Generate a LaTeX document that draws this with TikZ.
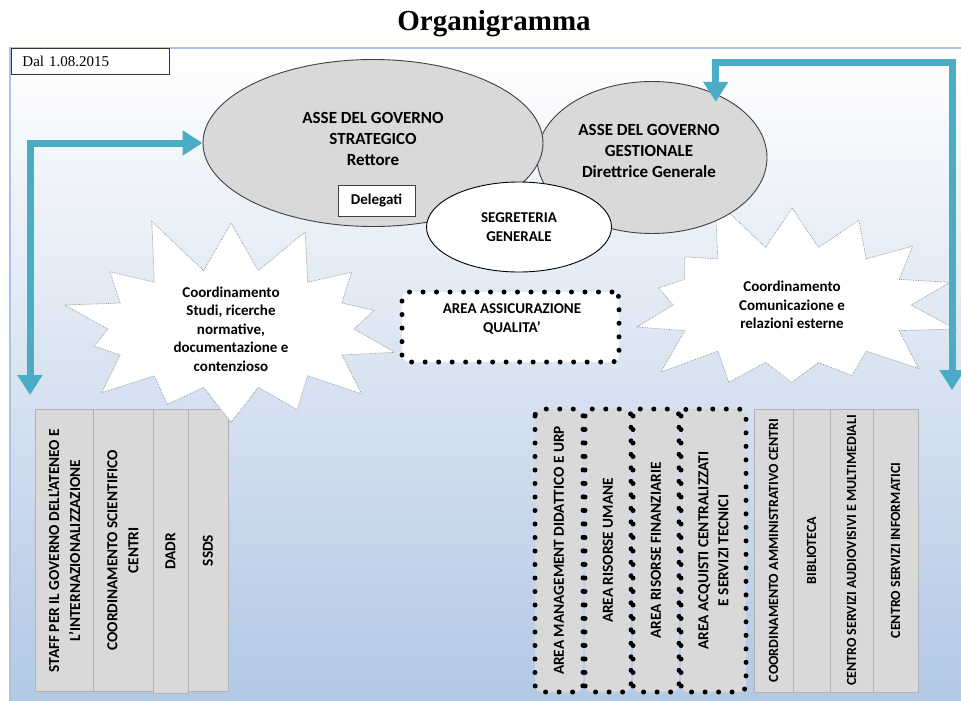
\documentclass[tikz,border=0pt]{standalone}
\usepackage{fontspec}
\setmainfont{Carlito}
\newfontfamily\serifrm{Liberation Serif}
\usetikzlibrary{arrows.meta}
\usetikzlibrary{shapes.geometric}
\usetikzlibrary{shapes.symbols}
\definecolor{cellgray}{RGB}{217,217,217}
\definecolor{flowblue}{RGB}{75,172,198}
\definecolor{panelblue}{RGB}{178,200,228}
\definecolor{panelline}{RGB}{170,196,232}
\newcommand{\bigtxt}{\bfseries\fontsize{17}{21}\selectfont}

\begin{document}
\begin{tikzpicture}[x=1pt,y=-1pt,
  font=\bfseries\fontsize{15}{18.5}\selectfont,
  oval/.style={ellipse,draw=black!75,fill=cellgray,line width=0.9pt,inner sep=0pt},
  burst/.style={starburst,starburst points=14,starburst point height=62pt,draw=black!45,densely dotted,line width=0.7pt,fill=white,align=center,inner sep=0pt},
  cell/.style={rotate=90,draw=black!30,fill=cellgray,line width=0.8pt,inner sep=0pt,minimum width=282pt,align=center,font=\bfseries\fontsize{15.3}{21}\selectfont},
  smallcell/.style={cell,minimum width=283pt,font=\bfseries\fontsize{14}{18}\selectfont},
  dotcell/.style={rotate=90,draw=black,fill=cellgray,line width=5pt,dash pattern=on 0pt off 13.5pt,line cap=round,rounded corners=7pt,inner sep=0pt,minimum width=283pt,align=center,font=\bfseries\fontsize{15.3}{20}\selectfont},
  flow/.style={draw=flowblue,line width=7pt,>={Triangle[length=20pt,width=24pt]},<->}]
\useasboundingbox (0,0) rectangle (961,701);

% sfondo
\shade[top color=white,bottom color=panelblue] (10,48) rectangle (961,701);
\draw[panelline,line width=1.5pt] (10,701) -- (10,48) -- (961,48);

\node[anchor=base] (title) at (494,31) {\serifrm\bfseries\fontsize{29}{30}\selectfont Organigramma};
\node[draw=black!80,line width=0.9pt,fill=white,anchor=north west,minimum width=158pt,minimum height=26pt,
  inner xsep=11pt,text width=136pt,align=left,font=\serifrm\mdseries\fontsize{15}{16}\selectfont] (date) at (11,48) {Dal 1.08.2015};

% uffici a sinistra
\node[cell,minimum height=58pt] (staff) at (64,550.5) {STAFF PER IL GOVERNO DELL’ATENEO E\\L’INTERNAZIONALIZZAZIONE};
\node[cell,minimum height=60pt] (coordsc) at (123,550.5) {COORDINAMENTO SCIENTIFICO\\CENTRI};
\node[cell,minimum height=35pt,minimum width=284pt] (dadr) at (170.5,551.5) {DADR};
\node[cell,minimum height=40pt] (ssds) at (208,550.5) {SSDS};

% aree a destra
\node[dotcell,minimum height=48pt] (amd) at (559,550.5) {AREA MANAGEMENT DIDATTICO E URP};
\node[dotcell,minimum height=46pt] (aru) at (608,550.5) {AREA RISORSE UMANE};
\node[dotcell,minimum height=46pt] (arf) at (656,550.5) {AREA RISORSE FINANZIARIE};
\node[dotcell,minimum height=65pt] (aac) at (713.5,550.5) {AREA ACQUISTI CENTRALIZZATI\\E SERVIZI TECNICI};

\node[smallcell,minimum height=39pt] (cac) at (773.5,550.5) {COORDINAMENTO AMMINISTRATIVO CENTRI};
\node[smallcell,minimum height=37pt] (bib) at (811.5,550.5) {BIBLIOTECA};
\node[smallcell,minimum height=43pt] (csam) at (851.5,550.5) {CENTRO SERVIZI AUDIOVISIVI E MULTIMEDIALI};
\node[smallcell,minimum height=45pt] (csi) at (895.5,550.5) {CENTRO SERVIZI INFORMATICI};

% coordinamenti
\node[burst,minimum width=370pt,minimum height=240pt,random starburst=11] (studi) at (231,329)
  {Coordinamento\\Studi, ricerche\\normative,\\documentazione e\\contenzioso};
\node[burst,minimum width=362pt,minimum height=242pt,random starburst=5] (comun) at (792,305)
  {Coordinamento\\Comunicazione e\\relazioni esterne};

\node[draw=black,fill=white,line width=5pt,dash pattern=on 0pt off 13.5pt,line cap=round,rounded corners=7pt,
  minimum width=217pt,minimum height=70pt] (qual) at (510.5,327) {};
\node[align=center] (qualtxt) at (512,319) {AREA ASSICURAZIONE\\QUALITA’};

% assi di governo
\node[oval,minimum width=230pt,minimum height=152pt] (gest) at (652,157.5) {};
\node[align=center,font=\bigtxt] (gesttxt) at (649,151) {ASSE DEL GOVERNO\\GESTIONALE\\Direttrice Generale};
\node[oval,minimum width=340pt,minimum height=167pt] (strat) at (373,143) {};
\node[align=center,font=\bigtxt] (strattxt) at (373,139) {ASSE DEL GOVERNO\\STRATEGICO\\Rettore};
\node[draw=black!75,fill=white,line width=0.9pt,minimum width=77pt,minimum height=31pt] (deleg) at (376.5,200.5) {Delegati};
\node[ellipse,draw=black,fill=white,line width=0.9pt,minimum width=185pt,minimum height=90pt,align=center] (segr) at (519,227)
  {SEGRETERIA\\GENERALE};

% frecce
\coordinate (lend) at (30,395);
\coordinate (rturn) at (952,63);
\coordinate (rend) at (952,390);
\draw[flow] (strat.west) -| (lend);
\draw[flow,shorten <=-8pt] (gest.45) |- (rturn) -- (rend);
\end{tikzpicture}
\end{document}
